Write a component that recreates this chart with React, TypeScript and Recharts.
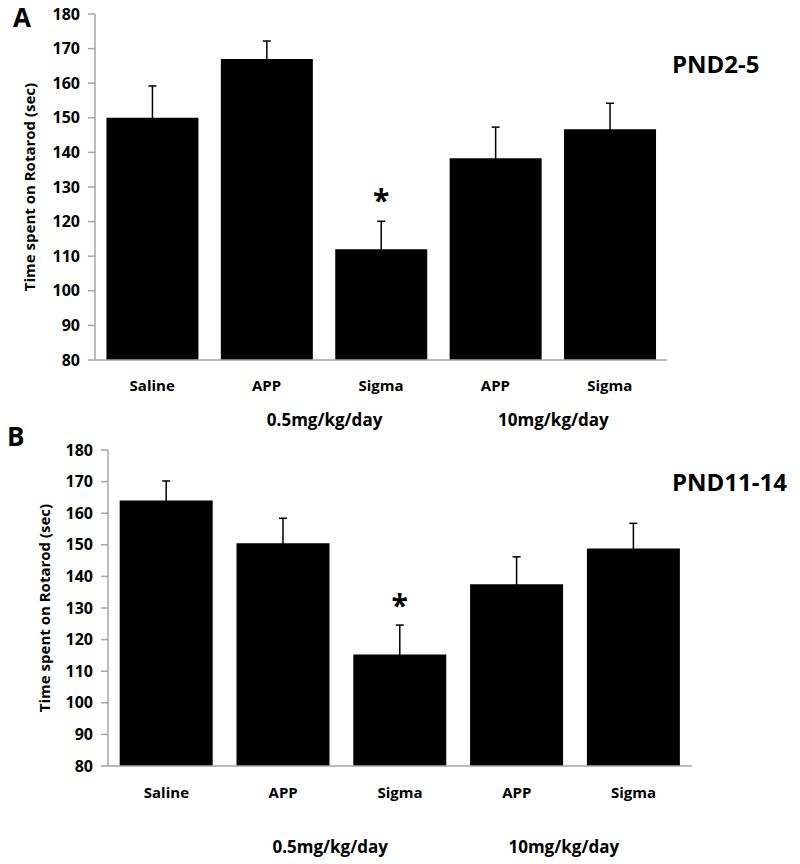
import React from 'react';
import { BarChart, Bar, XAxis, YAxis, ErrorBar, LabelList } from 'recharts';

const categories = ['Saline', 'APP', 'Sigma', 'APP', 'Sigma'];
const doseGroups = ['', '0.5mg/kg/day', '', '10mg/kg/day', ''];
const marks = ['', '', '*', '', ''];

// PND2-5 panel
const pnd25Means = [150, 167, 112, 138.3, 146.7];
const pnd25Sem = [9.2, 5.2, 8.1, 9.0, 7.5];

// PND11-14 panel
const pnd1114Means = [164, 150.5, 115.3, 137.5, 148.8];
const pnd1114Sem = [6.2, 7.9, 9.3, 8.7, 8.0];

const yTicks = [80, 90, 100, 110, 120, 130, 140, 150, 160, 170, 180];

const FONT = '"Open Sans", sans-serif';
const AXIS_GRAY = '#a6a6a6';

const buildRows = (means: number[], sems: number[]) =>
  categories.map((name, i) => ({
    name,
    mean: means[i],
    sem: sems[i],
    mark: marks[i],
  }));

const DoseTick = (props: any) => {
  const { x, y, payload, labelDy, groupDy, groupDx } = props;
  const group = doseGroups[payload.index];
  return (
    <g>
      <text x={x} y={y + labelDy} textAnchor="middle" fontFamily={FONT} fontWeight={700} fontSize={15} fill="#000">
        {payload.value}
      </text>
      {group ? (
        <text x={x + groupDx} y={y + groupDy} textAnchor="middle" fontFamily={FONT} fontWeight={700} fontSize={17} fill="#000">
          {group}
        </text>
      ) : null}
    </g>
  );
};

interface PanelProps {
  means: number[];
  sems: number[];
  top: number;
  height: number;
  marginLeft: number;
  marginRight: number;
  xAxisHeight: number;
  marginBottom: number;
  labelDy: number;
  groupDy: number;
  groupDx: number;
  yLabelOffset: number;
}

const Panel: React.FC<PanelProps> = (p) => {
  const data = buildRows(p.means, p.sems);
  return (
    <div style={{ position: 'absolute', left: 0, top: p.top, width: 800, height: p.height }}>
      <BarChart
        width={800}
        height={p.height}
        data={data}
        barCategoryGap="10%"
        margin={{ top: 14, right: p.marginRight, left: p.marginLeft, bottom: p.marginBottom }}
      >
        <XAxis
          dataKey="name"
          height={p.xAxisHeight}
          axisLine={{ stroke: AXIS_GRAY, strokeWidth: 1.5 }}
          tickLine={false}
          interval={0}
          tick={<DoseTick labelDy={p.labelDy} groupDy={p.groupDy} groupDx={p.groupDx} />}
        />
        <YAxis
          width={60}
          domain={[80, 180]}
          ticks={yTicks}
          allowDataOverflow
          axisLine={{ stroke: AXIS_GRAY, strokeWidth: 1.5 }}
          tickLine={{ stroke: AXIS_GRAY, strokeWidth: 1.5 }}
          tickSize={7}
          tickMargin={8}
          tick={{ fontFamily: FONT, fontWeight: 700, fontSize: 16, fill: '#000' }}
          label={{
            value: 'Time spent on Rotarod (sec)',
            angle: -90,
            position: 'insideLeft',
            offset: p.yLabelOffset,
            style: { textAnchor: 'middle', fontFamily: FONT, fontWeight: 700, fontSize: 15, fill: '#000' },
          }}
        />
        <Bar dataKey="mean" fill="#000" isAnimationActive={false}>
          <ErrorBar dataKey="sem" direction="y" width={4} stroke="#000" strokeWidth={1.5} />
          <LabelList
            dataKey="mark"
            position="top"
            offset={38}
            style={{ fontFamily: FONT, fontWeight: 700, fontSize: 30, fill: '#000' }}
          />
        </Bar>
      </BarChart>
    </div>
  );
};

const panelText: React.CSSProperties = {
  position: 'absolute',
  fontFamily: FONT,
  fontWeight: 700,
  color: '#000',
  lineHeight: 1,
  whiteSpace: 'nowrap',
};

export default function App() {
  return (
    <div style={{ position: 'absolute', left: 0, top: 0, width: 800, height: 864, background: '#fff' }}>
      <Panel
        means={pnd25Means}
        sems={pnd25Sem}
        top={0}
        height={436}
        marginLeft={35}
        marginRight={133}
        xAxisHeight={70}
        marginBottom={6}
        labelDy={23}
        groupDy={58}
        groupDx={58}
        yLabelOffset={-5}
      />
      <Panel
        means={pnd1114Means}
        sems={pnd1114Sem}
        top={436}
        height={428}
        marginLeft={48}
        marginRight={108}
        xAxisHeight={90}
        marginBottom={8}
        labelDy={24}
        groupDy={79}
        groupDx={47}
        yLabelOffset={-3}
      />
      <div style={{ ...panelText, left: 13, top: 4, fontSize: 26 }}>A</div>
      <div style={{ ...panelText, left: 672, top: 52, fontSize: 24 }}>PND2-5</div>
      <div style={{ ...panelText, left: 7, top: 423, fontSize: 26 }}>B</div>
      <div style={{ ...panelText, left: 672, top: 470, fontSize: 24 }}>PND11-14</div>
    </div>
  );
}
